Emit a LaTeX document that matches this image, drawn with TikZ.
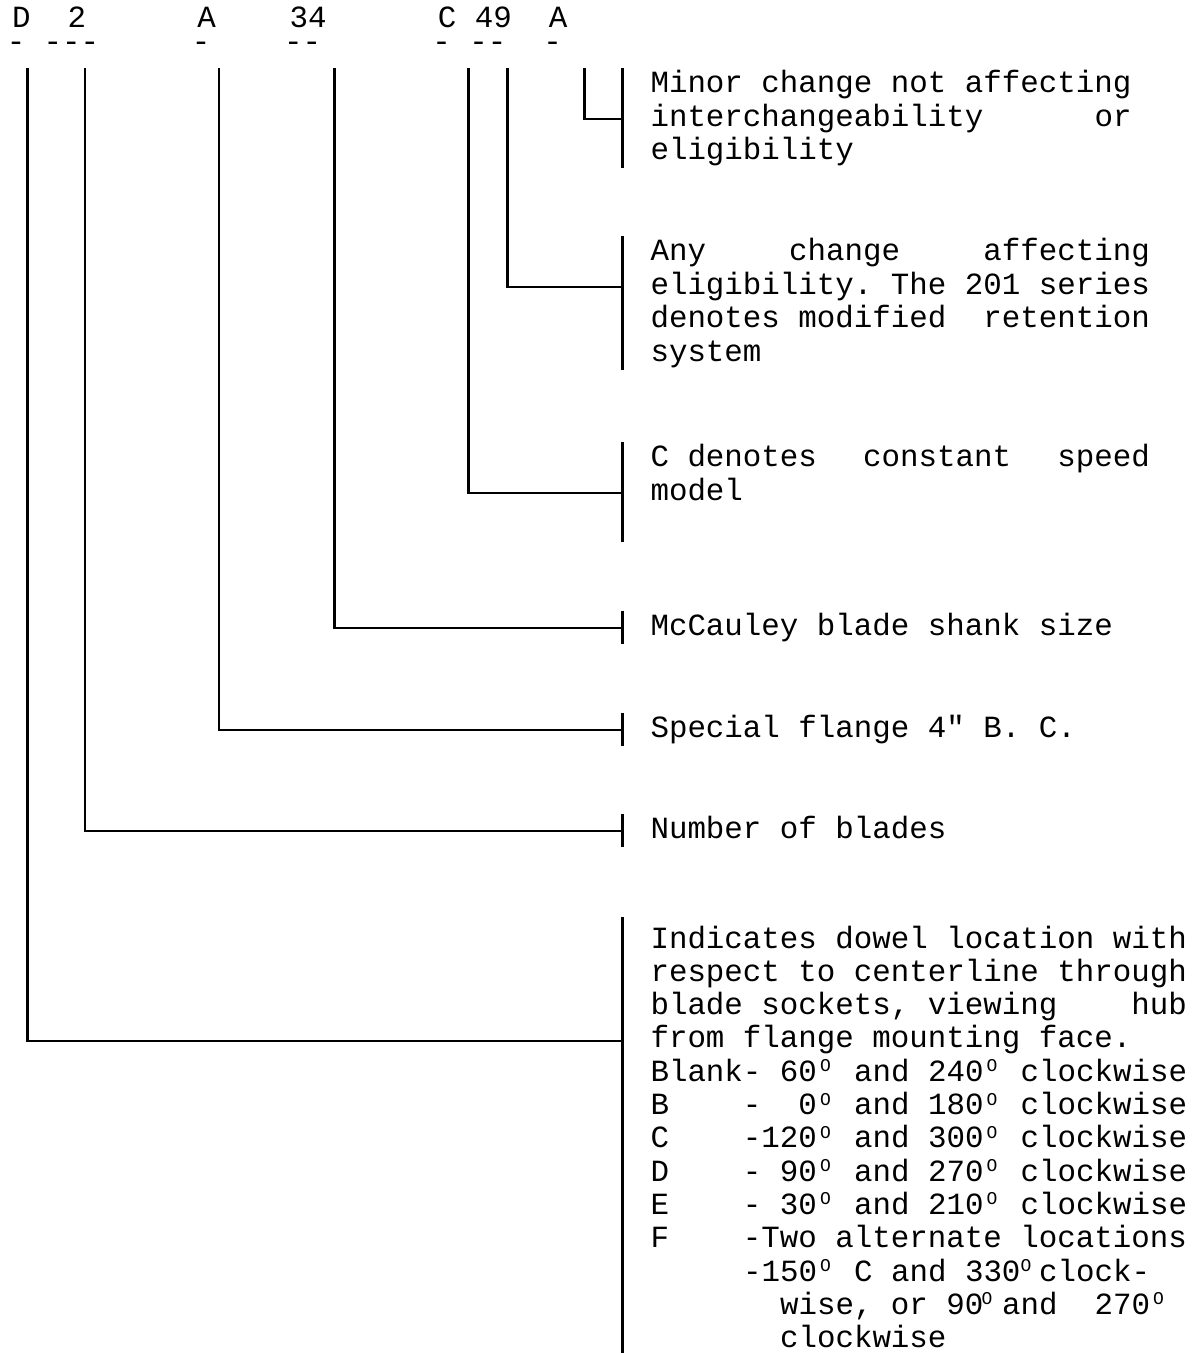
\documentclass[tikz,border=0pt]{standalone}
\usepackage{fontspec}
\setmonofont{Liberation Mono}
\newcommand\mytt{\ttfamily\fontsize{30.83}{33.3}\selectfont\frenchspacing}
\newcommand\dgmark{\raisebox{9.5pt}{\fontsize{18}{18}\selectfont O}}
\newcommand\dg{\makebox[18.5pt][l]{\hspace{3pt}\dgmark}}
\newcommand\dgz{\makebox[0pt][l]{\hspace{0pt}\dgmark}}
\newcommand\dgy{\makebox[0pt][l]{\hspace{-2pt}\dgmark}}
\begin{document}
\begin{tikzpicture}[x=1pt,y=-1pt,
  txt/.style={anchor=base west, inner sep=0pt, outer sep=0pt, font=\mytt},
  conn/.style={draw=black, line width=2.5pt, line cap=butt, line join=miter}]
\useasboundingbox (0,0) rectangle (1203,1353);

% header: code letters with their marks below
\node[txt] (hdr) at (12.25,27.5) {\vtop{\baselineskip=23.5pt\lineskiplimit=-100pt
  \hbox{D~~2~~~~~~A~~~~34~~~~~~C~49~~A}
  \hbox{\kern-5.5pt-~---~~~~~-~~~~--~~~~~~-~--~~-}}};

% tops of the code bars
\coordinate (tD)  at (27.3,68);
\coordinate (t2)  at (85,68);
\coordinate (tA)  at (219,68);
\coordinate (t34) at (334.7,68);
\coordinate (tC)  at (468.3,68);
\coordinate (t49) at (507.3,68);
\coordinate (tA2) at (584.3,68);

% label bars
\coordinate (b1t) at (622.7,68);   \coordinate (b1b) at (622.7,168);
\coordinate (b2t) at (622.7,236);  \coordinate (b2b) at (622.7,369.5);
\coordinate (b3t) at (622.7,442);  \coordinate (b3b) at (622.7,541.5);
\coordinate (b4t) at (622.7,610.5);\coordinate (b4b) at (622.7,643.5);
\coordinate (b5t) at (622.7,712.5);\coordinate (b5b) at (622.7,745.5);
\coordinate (b6t) at (622.7,813.5);\coordinate (b6b) at (622.7,846.5);
\coordinate (b7t) at (622.7,917);  \coordinate (b7b) at (622.7,1353);

% junction points on label bars
\coordinate (lA2) at (622.7,119);
\coordinate (l49) at (622.7,287);
\coordinate (lC)  at (622.7,493);
\coordinate (l34) at (622.7,628);
\coordinate (lA)  at (622.7,730);
\coordinate (l2)  at (622.7,831);
\coordinate (lD)  at (622.7,1041);

\foreach \a/\b in {b1t/b1b,b2t/b2b,b3t/b3b,b4t/b4b,b5t/b5b,b6t/b6b,b7t/b7b}
  \draw[conn] (\a) -- (\b);

\draw[conn] (tA2) |- (lA2);
\draw[conn] (t49) |- (l49);
\draw[conn] (tC)  |- (lC);
\draw[conn] (t34) |- (l34);
\draw[conn] (tA)  |- (lA);
\draw[conn] (t2)  |- (l2);
\draw[conn] (tD)  |- (lD);

% label texts
\node[txt] (m1) at (650.5,92.5) {Minor change not affecting};
\node[txt] (m2) at (650.5,126) {\makebox[481pt][s]{interchangeability\hfill or}};
\node[txt] (m3) at (650.5,159.5) {eligibility};

\node[txt] (e1) at (650.5,260.5) {\makebox[499.5pt][s]{Any\hfill change\hfill affecting}};
\node[txt] (e2) at (650.5,294) {eligibility. The 201 series};
\node[txt] (e3) at (650.5,327.5) {denotes modified~~retention};
\node[txt] (e4) at (650.5,361) {system};

\node[txt] (c1) at (650.5,466.5) {\makebox[499.5pt][s]{C denotes\hfill constant\hfill speed}};
\node[txt] (c2) at (650.5,500) {model};

\node[txt] (s1) at (650.5,635) {McCauley blade shank size};
\node[txt] (f1) at (650.5,737) {Special flange 4" B. C.};
\node[txt] (n1) at (650.5,838) {Number of blades};

\node[txt] (d0)  at (650.5,948)    {Indicates dowel location with};
\node[txt] (d1)  at (650.5,981.3)  {respect to centerline through};
\node[txt] (d2)  at (650.5,1014.6) {blade sockets, viewing~~~~hub};
\node[txt] (d3)  at (650.5,1047.9) {from flange mounting face.};
\node[txt] (d4)  at (650.5,1081.2) {Blank-~60\dg{} and 240\dg{} clockwise};
\node[txt] (d5)  at (650.5,1114.5) {B~~~~-~~0\dg{} and 180\dg{} clockwise};
\node[txt] (d6)  at (650.5,1147.8) {C~~~~-120\dg{} and 300\dg{} clockwise};
\node[txt] (d7)  at (650.5,1181.1) {D~~~~-~90\dg{} and 270\dg{} clockwise};
\node[txt] (d8)  at (650.5,1214.4) {E~~~~-~30\dg{} and 210\dg{} clockwise};
\node[txt] (d9)  at (650.5,1247.7) {F~~~~-Two alternate locations};
\node[txt] (d10) at (650.5,1281.0) {~~~~~-150\dg{} C and 330\dgz{} clock-};
\node[txt] (d11) at (650.5,1314.3) {~~~~~~~wise, or 90\dgy{} and~~270\dg};
\node[txt] (d12) at (650.5,1347.6) {~~~~~~~clockwise};
\end{tikzpicture}
\end{document}
